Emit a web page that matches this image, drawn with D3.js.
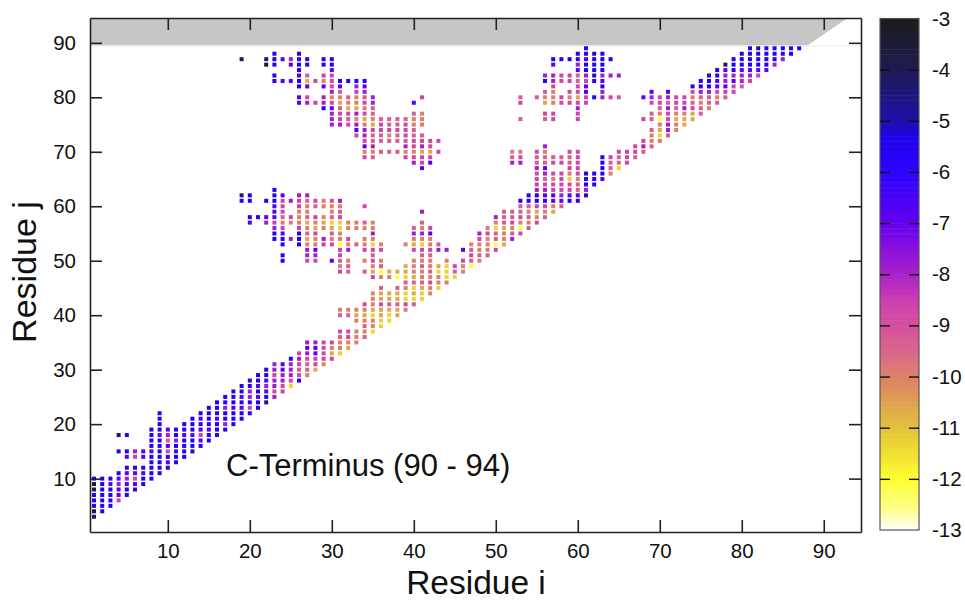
<!DOCTYPE html>
<html>
<head>
<meta charset="utf-8">
<script src="https://cdn.jsdelivr.net/npm/d3@7"></script>
<style>
  html, body { margin: 0; background: #fff; }
  text { font-family: "Liberation Sans", sans-serif; fill: #111; }
</style>
</head>
<body>
<div id="chart"></div>
<script>
// energy read off the colour of each cell, one letter per cell, "." = no cell
var energyCodes = {K: -3.4, N: -4.4, B: -5.6, V: -6.8, P: -7.9, M: -8.7, R: -9.3, O: -10, A: -10.6, G: -11.3, Y: -12};

// low end of the diagonal, by column: [i, first j, codes going up]
var lowBandColumns = [
    [1, 3, "NKBBBNKB"], [2, 4, "BBBBBBB"], [3, 5, "BBBBVB"],
    [4, 6, "MVVPVB"], [4, 15, "B"], [4, 18, "N"],
    [5, 7, "BBVPVB"], [5, 14, "VB"], [5, 18, "B"],
    [6, 8, "BVMVB"], [6, 14, "MP"],
    [7, 9, "BBVB"], [7, 14, "VV"],
    [8, 10, "BBBBBVBBBB"], [9, 11, "BBBBBBBVBBBB"], [10, 12, "BVBMVRPV"],
    [11, 13, "BBVBPBB"], [12, 14, "BBBBVBB"], [13, 15, "BBBVBBB"],
    [14, 16, "BVMVBVB"], [15, 17, "BBVBBBB"], [16, 18, "BBBVBBB"],
    [17, 19, "BPBBPBB"], [18, 20, "BBBVBBB"], [19, 21, "BBVBVBB"],
    [20, 22, "BMBPPBB"], [21, 23, "BBVBVBB"], [22, 24, "NBVPVBB"],
    [23, 25, "PMPPMPP"], [24, 26, "MMPPVV"], [25, 27, "GMPPPB"],
    [26, 28, "BMRMPM"], [27, 29, "ORRMP"], [28, 30, "AMMV"],
    [29, 31, "OMM"], [30, 32, "MA"], [31, 33, "G"]
];

// the rest by row: [j, first i, codes going right]
var middleIsland = [
    [63, 23, "B"], [62, 19, "NB..BV.PP"], [61, 19, "BB.BBMPMRMOMP"],
    [60, 23, "VM.MOROOO..M"], [59, 23, "VM.OO..OR.........P"],
    [58, 20, "BBVVRMORMORM"], [57, 20, "V.PMOOOAOAGGOORO.....R"],
    [56, 23, "PM.MOAOAGOOOO....ROM"], [55, 23, "BV.BRM.RO...P....PPV"],
    [54, 23, "BBPBAOPOOM.OO....OOO"], [53, 24, "B.BOOMMYOROGO..OAGOR...OOOYA"],
    [52, 27, "PV..MP.MMM...MMMPP.VROOM"], [51, 24, "B..PP..M...R.....RR....MRR"],
    [50, 24, "B..MM.VRO.OMO...OOO.O.MRO"], [49, 31, "OR..OR..AOROAGMOY"],
    [48, 31, "MR.RAYAAAOORGGRO"], [47, 35, "MOOYGAOOOGG"], [46, 39, "RRRMOO"],
    [45, 36, "R.ROGAOG"], [44, 35, "OAAAGAGO"], [43, 35, "OAAAGGG"],
    [42, 34, "MOMRRMR"], [41, 31, "OOOOAAAAO"], [40, 31, "RRAAGAGA"],
    [39, 33, "OOOGG"], [38, 34, "ROG"], [37, 31, "MMOOG"], [36, 31, "RMOR"],
    [35, 27, "PPMMOOO"], [34, 27, "VVMOOA"]
];

var upperIsland = [
    [88, 23, "B..B"], [87, 19, "N..NBVPBB.BB"], [86, 22, "KB.VBB.BB"],
    [85, 26, "B...V"], [84, 23, "B..VR.MM"], [83, 23, "BVVBAMOMBBBB"],
    [82, 26, "BV.VMV.PV"], [81, 30, "PR.MP"], [80, 26, "VM.POORORP.....M"],
    [79, 26, "VPMPMAOOMP....V"], [78, 29, "BVRAAOR"], [77, 30, "PMMPMR....RO"],
    [76, 30, "PMROAORRRROO"], [75, 30, "PPMPOAMRRMOO"], [74, 33, "VPMMMMMR"],
    [73, 33, "MPRRORMRR"], [72, 34, "MRRRRRMMMM"], [71, 34, "VP...PMPM"],
    [70, 34, "OORRROOAAM"], [69, 34, "MR...MMMM"], [68, 40, "PMV"], [67, 41, "V"]
];

var rightIsland = [
    [89, 61, "B"], [88, 60, "BBBB"], [87, 57, "BBBBVBBB"], [86, 57, "V..PBBB"],
    [85, 60, "VBBB"], [84, 56, "PPMMRPBPPP"], [83, 56, "BPMMRMBV"],
    [82, 57, "M..MV.B"], [81, 56, "RO.MMV.P"], [80, 53, "R.ROOMOAMBPMR"],
    [79, 53, "M..AOMMMM"], [78, 60, "P"], [77, 56, "MM..M"], [76, 53, "R..RM..M"]
];

var highBand = [
    [55, 48, "PMRORM"], [54, 48, "MOROP"], [56, 49, "OGAOYR"], [57, 50, "ORMOOM"],
    [58, 50, "PRRMROR"], [59, 51, "RRROAOA"], [60, 53, "RRMMOR"],
    [61, 53, "BBBBVVBB"], [62, 54, "BBVVPVVB"], [63, 55, "PPMMMRP"],
    [64, 55, "MMMMMRBB"], [65, 55, "MROMGOBBV"], [66, 55, "MPMMOMBBBO"],
    [67, 55, "PV..MM..BRG"], [68, 52, "PP.RRMMRM..BRRM"], [69, 52, "RM.RRRRRM..BMRMR"],
    [70, 52, "OO.MO..MM....MMMR"], [71, 56, "P..........MPR"],
    [72, 68, "MOO"], [73, 69, "OGR"], [74, 69, "RAPO"], [75, 70, "OPOA"],
    [76, 68, "MRYMAAA"], [77, 69, "ROMOOAR"], [78, 70, "RPRPMRO"],
    [79, 69, "MMRMMRORR"], [80, 68, "VPMPMMORROR"], [81, 69, "V.V..MPPMMM"],
    [82, 74, "BBBVVMR"], [83, 75, "BBVPVPM"], [84, 76, "BBPPPPM"],
    [85, 77, "BVBVVVV"], [86, 78, "NBBBBBP"], [87, 79, "BBBBBBP"],
    [88, 80, "BBBBBBB"], [89, 81, "BNBBBBB"]
];

var axisTicks = [10, 20, 30, 40, 50, 60, 70, 80, 90];
var barTicks = [-3, -4, -5, -6, -7, -8, -9, -10, -11, -12, -13];
var paletteStops = [-13, -12.6, -12, -11.5, -11, -10.5, -10, -9.5, -9, -8.5, -8, -7.5, -7, -6, -5.3, -5, -4, -3];
var paletteColors = ["#ffffff", "#ffff90", "#ffff33", "#f0e030", "#e3c23c", "#e0a050", "#dc8068", "#d8688a", "#d4509e", "#cc40b0", "#a820c8", "#8a10dc", "#6400f0", "#2c04ff", "#2000e8", "#1c10a8", "#1e1a52", "#1c1c1c"];
// grey corner of the map, in residue units
var hiddenRegion = [[0.51, 89.5], [88, 89.5], [92.9, 94.56], [0.51, 94.56]];

var width = 965, height = 600;
var plot = {left: 90, right: 861, top: 18, bottom: 532};
var bar = {left: 880, right: 919, top: 18.5, bottom: 530};
var tickLength = 12;

// unpack the strings into one cell per contact
var cells = [];
lowBandColumns.forEach(function(c) {
    c[2].split("").forEach(function(code, k) {
        if(code != ".") cells.push({i: c[0], j: c[1] + k, value: energyCodes[code]});
    });
});
[middleIsland, upperIsland, rightIsland, highBand].forEach(function(group) {
    group.forEach(function(r) {
        r[2].split("").forEach(function(code, k) {
            if(code != ".") cells.push({i: r[1] + k, j: r[0], value: energyCodes[code]});
        });
    });
});

var x = d3.scaleLinear().domain([0.51, 94.54]).range([plot.left, plot.right]);
var y = d3.scaleLinear().domain([0.2, 94.56]).range([plot.bottom, plot.top]);
var color = d3.scaleLinear().domain(paletteStops).range(paletteColors).clamp(true);
var barY = d3.scaleLinear().domain([-3, -13]).range([bar.top, bar.bottom]);

var svg = d3.select("#chart").append("svg")
    .attr("width", width)
    .attr("height", height)
    .style("display", "block");

// grey band on top of the map
svg.append("path")
    .attr("d", d3.line().x(function(d) { return x(d[0]); }).y(function(d) { return y(d[1]); })(hiddenRegion) + "Z")
    .attr("fill", "#c6c6c6");
svg.append("line")
    .attr("x1", plot.left).attr("x2", plot.right)
    .attr("y1", y(89.5) + 0.5).attr("y2", y(89.5) + 0.5)
    .attr("stroke", "#eeeeee");

// contact cells
svg.append("g")
    .style("filter", "blur(0.5px)")
    .selectAll("rect")
    .data(cells)
    .enter()
    .append("rect")
    .attr("x", function(d) { return x(d.i) - 2; })
    .attr("y", function(d) { return y(d.j) - 2; })
    .attr("width", 4)
    .attr("height", 4)
    .attr("fill", function(d) { return color(d.value); });

// frame and ticks on all four sides
function styleAxis(g) {
    g.selectAll("path, line").attr("stroke", "#222").attr("stroke-width", 1.6);
    g.selectAll("text").attr("font-size", "20.5px").attr("fill", "#111");
}
svg.append("g").attr("transform", "translate(0," + plot.bottom + ")")
    .call(d3.axisBottom(x).tickValues(axisTicks).tickSize(-tickLength).tickSizeOuter(0).tickPadding(11))
    .call(styleAxis);
svg.append("g").attr("transform", "translate(0," + plot.top + ")")
    .call(d3.axisTop(x).tickValues(axisTicks).tickSize(-tickLength).tickSizeOuter(0).tickFormat(""))
    .call(styleAxis);
svg.append("g").attr("transform", "translate(" + plot.left + ",0)")
    .call(d3.axisLeft(y).tickValues(axisTicks).tickSize(-tickLength).tickSizeOuter(0).tickPadding(14))
    .call(styleAxis);
svg.append("g").attr("transform", "translate(" + plot.right + ",0)")
    .call(d3.axisRight(y).tickValues(axisTicks).tickSize(-tickLength).tickSizeOuter(0).tickFormat(""))
    .call(styleAxis);

// colour bar
var bandStep = 0.1;
svg.append("g")
    .selectAll("rect")
    .data(d3.range(-13, -3, bandStep))
    .enter()
    .append("rect")
    .attr("x", bar.left)
    .attr("width", bar.right - bar.left)
    .attr("y", function(d) { return barY(d + bandStep); })
    .attr("height", function(d) { return barY(d) - barY(d + bandStep) + 0.5; })
    .attr("fill", function(d) { return color(d + bandStep / 2); });
svg.append("rect")
    .attr("x", bar.left).attr("y", bar.top)
    .attr("width", bar.right - bar.left).attr("height", bar.bottom - bar.top)
    .attr("fill", "none").attr("stroke", "#555").attr("stroke-width", 1.2);
var barTicksInner = barTicks.slice(1, -1);
svg.append("g").attr("transform", "translate(" + bar.left + ",0)")
    .call(d3.axisLeft(barY).tickValues(barTicksInner).tickSize(-10).tickSizeOuter(0).tickFormat(""))
    .call(function(g) { g.select("path").remove(); g.selectAll("line").attr("stroke", "#111").attr("stroke-width", 1.4); });
svg.append("g").attr("transform", "translate(" + bar.right + ",0)")
    .call(d3.axisRight(barY).tickValues(barTicksInner).tickSize(-10).tickSizeOuter(0).tickFormat(""))
    .call(function(g) { g.select("path").remove(); g.selectAll("line").attr("stroke", "#111").attr("stroke-width", 1.4); });
svg.append("g")
    .selectAll("text")
    .data(barTicks)
    .enter()
    .append("text")
    .text(function(d) { return d; })
    .attr("x", 932)
    .attr("y", function(d) { return barY(d) + 7; })
    .attr("font-size", "20.5px");

// titles
svg.append("text")
    .text("Residue i")
    .attr("x", 476)
    .attr("y", 594)
    .attr("text-anchor", "middle")
    .attr("font-size", "33.5px");
svg.append("text")
    .text("Residue j")
    .attr("transform", "translate(36,272) rotate(-90)")
    .attr("text-anchor", "middle")
    .attr("font-size", "34px");
svg.append("text")
    .text("C-Terminus (90 - 94)")
    .attr("x", 226)
    .attr("y", 476)
    .attr("font-size", "31px");
</script>
</body>
</html>
